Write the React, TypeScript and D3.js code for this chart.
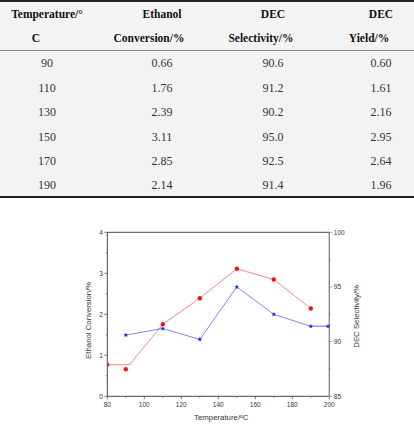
import { useMemo } from "react";
import * as d3 from "d3";

// table contents
const headerTop = ["Temperature/°", "Ethanol", "DEC", "DEC"];
const headerBottom = ["C", "Conversion/%", "Selectivity/%", "Yield/%"];
const temps = [90, 110, 130, 150, 170, 190];
const conversion = [0.66, 1.76, 2.39, 3.11, 2.85, 2.14];
const selectivity = [90.6, 91.2, 90.2, 95.0, 92.5, 91.4];
const yieldPct = [0.6, 1.61, 2.16, 2.95, 2.64, 1.96];

// plotted traces (the red trace starts with a flat stub at 80–92 °C)
const redLineT = [80, 92, 110, 130, 150, 170, 190];
const redLineV = [0.77, 0.77, 1.76, 2.39, 3.11, 2.85, 2.14];
const blueTailT = [190, 200];
const blueTailV = [91.4, 91.4];

const xTicks = [80, 100, 120, 140, 160, 180, 200];
const leftTicks = [0, 1, 2, 3, 4];
const rightTicks = [85, 90, 95, 100];

const W = 414;
const H = 428;

function Table() {
  const colX = [47, 162, 273, 381];
  const colX2 = [36, 149, 261, 369];
  const rowY = [63, 87.5, 112, 136.5, 161, 185];
  const serif = "'Liberation Serif', 'Times New Roman', serif";
  return (
    <g fontFamily={serif}>
      <rect x={0} y={0} width={W} height={198} fill="#f3f3f3" />
      <line x1={0} x2={W} y1={1} y2={1} stroke="#222" strokeWidth={2} />
      <line x1={0} x2={W} y1={50.5} y2={50.5} stroke="#8a8a8a" strokeWidth={1.2} />
      <line x1={0} x2={W} y1={197} y2={197} stroke="#222" strokeWidth={2} />
      {headerTop.map((t, i) => (
        <text key={"h" + i} x={colX[i]} y={18} textAnchor="middle" fontWeight="bold" fontSize={11.5} fill="#111">
          {t}
        </text>
      ))}
      {headerBottom.map((t, i) => (
        <text key={"b" + i} x={colX2[i]} y={42} textAnchor="middle" fontWeight="bold" fontSize={11.5} fill="#111">
          {t}
        </text>
      ))}
      {temps.map((t, r) => {
        const cells = [
          String(t),
          conversion[r].toFixed(2),
          selectivity[r].toFixed(1),
          yieldPct[r].toFixed(2),
        ];
        return cells.map((c, i) => (
          <text key={r + "-" + i} x={colX[i]} y={rowY[r] + 4} textAnchor="middle" fontSize={12} fill="#333">
            {c}
          </text>
        ));
      })}
    </g>
  );
}

function Chart() {
  const left = 107.3;
  const right = 329.3;
  const top = 232.3;
  const bottom = 396.3;

  const x = useMemo(() => d3.scaleLinear().domain([80, 200]).range([left, right]), []);
  const yL = useMemo(() => d3.scaleLinear().domain([0, 4]).range([bottom, top]), []);
  const yR = useMemo(() => d3.scaleLinear().domain([85, 100]).range([bottom, top]), []);

  const redPath = d3
    .line<number>()
    .x((_d, i) => x(redLineT[i]))
    .y((d) => yL(d))(redLineV) ?? "";
  const bluePath = d3
    .line<number>()
    .x((_d, i) => x(temps[i]))
    .y((d) => yR(d))(selectivity) ?? "";
  const tailPath = d3
    .line<number>()
    .x((_d, i) => x(blueTailT[i]))
    .y((d) => yR(d))(blueTailV) ?? "";

  const star = d3.symbol(d3.symbolStar, 8)() ?? "";
  const sans = "'Liberation Sans', Arial, sans-serif";
  const tickCol = "#444";

  const xMinor = d3.range(90, 200, 20);
  const lMinor = d3.range(0.5, 4, 1);
  const rMinor = d3.range(87.5, 100, 5);

  return (
    <g fontFamily={sans}>
      <defs>
        <clipPath id="plot">
          <rect x={left} y={top} width={right - left + 3} height={bottom - top} />
        </clipPath>
      </defs>

      {/* frame */}
      <line x1={left} x2={right} y1={top} y2={top} stroke="#333" strokeWidth={0.9} />
      <line x1={left} x2={right} y1={bottom} y2={bottom} stroke="#333" strokeWidth={0.9} />
      <line x1={left} x2={left} y1={top} y2={bottom} stroke="#333" strokeWidth={0.9} />
      <line x1={right} x2={right} y1={top} y2={bottom} stroke="#8a8a8a" strokeWidth={1.4} />

      {/* bottom axis */}
      {xTicks.map((t) => (
        <g key={"x" + t}>
          <line x1={x(t)} x2={x(t)} y1={bottom} y2={bottom + 3} stroke={tickCol} strokeWidth={0.7} />
          <text x={x(t)} y={bottom + 11} textAnchor="middle" fontSize={6.5} fill="#333">
            {t}
          </text>
        </g>
      ))}
      {xMinor.map((t) => (
        <line key={"xm" + t} x1={x(t)} x2={x(t)} y1={bottom} y2={bottom + 1.6} stroke={tickCol} strokeWidth={0.6} />
      ))}

      {/* left axis */}
      {leftTicks.map((t) => (
        <g key={"l" + t}>
          <line x1={left - 3} x2={left} y1={yL(t)} y2={yL(t)} stroke={tickCol} strokeWidth={0.7} />
          <text x={left - 4.5} y={yL(t) + 2.2} textAnchor="end" fontSize={6.5} fill="#333">
            {t}
          </text>
        </g>
      ))}
      {lMinor.map((t) => (
        <line key={"lm" + t} x1={left - 1.6} x2={left} y1={yL(t)} y2={yL(t)} stroke={tickCol} strokeWidth={0.6} />
      ))}

      {/* right axis */}
      {rightTicks.map((t) => (
        <g key={"r" + t}>
          <line x1={right} x2={right + 3} y1={yR(t)} y2={yR(t)} stroke="#777" strokeWidth={0.7} />
          <text x={right + 4.5} y={yR(t) + 2.2} textAnchor="start" fontSize={6.5} fill="#333">
            {t}
          </text>
        </g>
      ))}
      {rMinor.map((t) => (
        <line key={"rm" + t} x1={right} x2={right + 1.6} y1={yR(t)} y2={yR(t)} stroke="#777" strokeWidth={0.6} />
      ))}

      {/* axis titles */}
      <text
        transform={`translate(91,${(top + bottom) / 2 + 6}) rotate(-90)`}
        textAnchor="middle"
        fontSize={7.8}
        fill="#333"
      >
        Ethanol Conversion/%
      </text>
      <text
        transform={`translate(359,${(top + bottom) / 2 + 2}) rotate(-90)`}
        textAnchor="middle"
        fontSize={7.8}
        fill="#333"
      >
        DEC Selectivity/%
      </text>
      <text x={(left + right) / 2 + 3} y={420} textAnchor="middle" fontSize={7.8} fill="#333">
        Temperature/
        <tspan dy={-2.5} fontSize={5}>o</tspan>
        <tspan dy={2.5}>C</tspan>
      </text>

      {/* series */}
      <g clipPath="url(#plot)">
        <path d={redPath} fill="none" stroke="#f06a6a" strokeWidth={0.8} />
        <path d={bluePath} fill="none" stroke="#6464f0" strokeWidth={0.8} />
        <path d={tailPath} fill="none" stroke="#9a9af5" strokeWidth={1.5} />
        <circle cx={x(80)} cy={yL(0.77)} r={2} fill="#e8141c" />
        {conversion.map((v, i) => (
          <circle key={"c" + i} cx={x(temps[i])} cy={yL(v)} r={2.2} fill="#e8141c" />
        ))}
        {selectivity.map((v, i) => (
          <path key={"s" + i} d={star} transform={`translate(${x(temps[i])},${yR(v)})`} fill="#1f1fe6" />
        ))}
        <path d={star} transform={`translate(${x(199.3)},${yR(91.4)})`} fill="#1f1fe6" />
      </g>
    </g>
  );
}

export default function App() {
  return (
    <div style={{ position: "absolute", left: 0, top: 0 }}>
      <svg width={W} height={H} style={{ display: "block", background: "#fff" }}>
        <Table />
        <Chart />
      </svg>
    </div>
  );
}
